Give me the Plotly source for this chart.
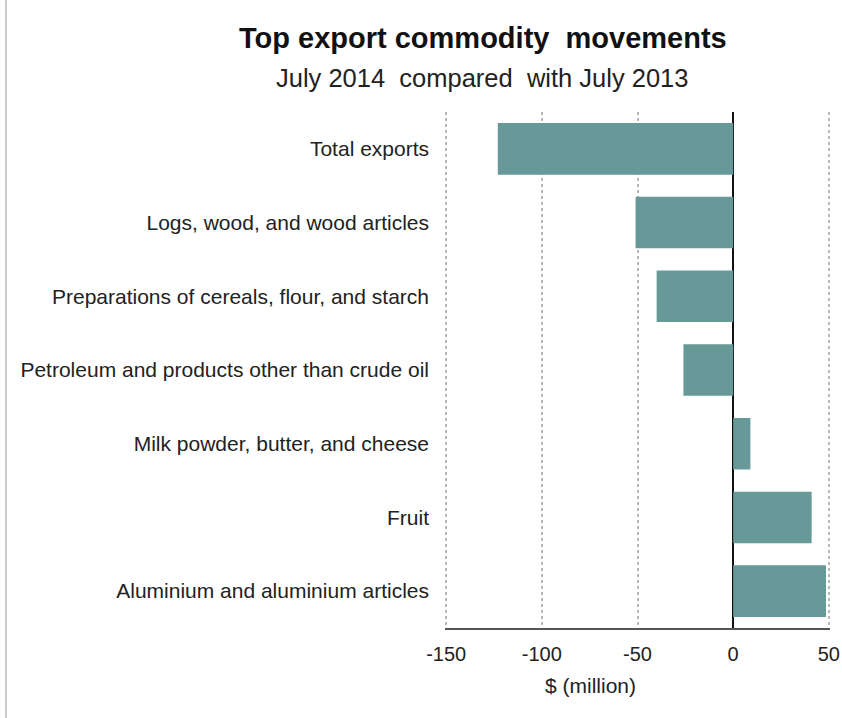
import plotly.graph_objects as go

categories = [
    "Total exports",
    "Logs, wood, and wood articles",
    "Preparations of cereals, flour, and starch",
    "Petroleum and products other than crude oil",
    "Milk powder, butter, and cheese",
    "Fruit",
    "Aluminium and aluminium articles",
]
values = [-123, -51, -40, -26, 9, 41, 48.5]
x_ticks = [-150, -100, -50, 0, 50]

W, H = 842, 718
L, R, T, B = 445, 12, 112, 90
FONT = "Liberation Sans, Arial, sans-serif"


def px_x(px):
    return (px - L) / (W - L - R)


def px_y(py):
    return (H - B - py) / (H - T - B)


fig = go.Figure(
    go.Bar(
        x=values,
        y=categories,
        orientation="h",
        marker=dict(color="#679999", line=dict(width=0)),
        hoverinfo="x+y",
    )
)

fig.update_layout(
    width=W,
    height=H,
    margin=dict(l=L, r=R, t=T, b=B, autoexpand=False),
    paper_bgcolor="white",
    plot_bgcolor="white",
    showlegend=False,
    bargap=0.3,
    font=dict(family=FONT, color="#222222"),
)

fig.update_xaxes(
    automargin=False,
    range=[-150.6, 50.6],
    tickvals=x_ticks,
    ticktext=[str(v) for v in x_ticks],
    tickfont=dict(size=20, color="#222222"),
    showgrid=True,
    gridcolor="#b8b8b8",
    griddash="dot",
    gridwidth=1.5,
    zeroline=True,
    zerolinecolor="#111111",
    zerolinewidth=2,
    showline=True,
    linecolor="#555555",
    linewidth=2,
    ticks="",
    ticklabelstandoff=7,
)

fig.update_yaxes(
    automargin=False,
    categoryorder="array",
    categoryarray=categories,
    autorange="reversed",
    tickfont=dict(size=21, color="#222222"),
    showgrid=False,
    ticks="",
    ticklabelstandoff=15,
)

fig.add_annotation(
    text="<b>Top export commodity  movements</b>",
    x=px_x(483), y=px_y(38), xref="paper", yref="paper",
    showarrow=False, xanchor="center", yanchor="middle",
    font=dict(size=29, family=FONT, color="#111111"),
)
fig.add_annotation(
    text="July 2014  compared  with July 2013",
    x=px_x(482), y=px_y(78), xref="paper", yref="paper",
    showarrow=False, xanchor="center", yanchor="middle",
    font=dict(size=25.5, family=FONT, color="#222222"),
)
fig.add_annotation(
    text="$ (million)",
    x=px_x(590), y=px_y(685), xref="paper", yref="paper",
    showarrow=False, xanchor="center", yanchor="middle",
    font=dict(size=21, family=FONT, color="#222222"),
)

fig.add_shape(
    type="line", xref="paper", yref="paper",
    x0=px_x(6), x1=px_x(6), y0=px_y(0), y1=px_y(H),
    line=dict(color="#cccccc", width=2),
)

fig.write_html(
    "out.html",
    config={"displayModeBar": False},
    post_script="document.body.style.margin='0';document.body.style.padding='0';",
)
